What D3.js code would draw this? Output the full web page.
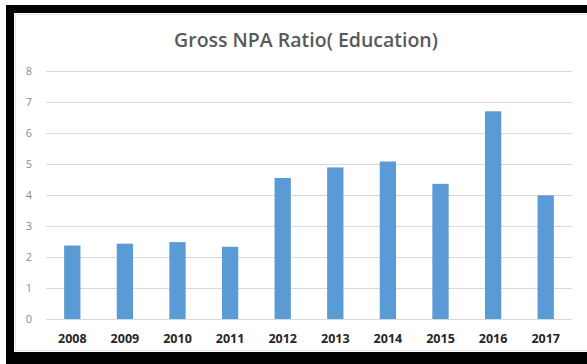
<!DOCTYPE html>
<html>
<head>
<meta charset="utf-8">
<script src="https://cdn.jsdelivr.net/npm/d3@7"></script>
<style>
  html, body { margin: 0; padding: 0; background: #fff; }
  svg { display: block; }
</style>
</head>
<body>
<svg id="chart" width="587" height="364"></svg>
<script>
// Gross NPA ratio for education loans, by year
const years = ["2008", "2009", "2010", "2011", "2012", "2013", "2014", "2015", "2016", "2017"];
const npaRatio = [2.37, 2.43, 2.48, 2.33, 4.55, 4.89, 5.08, 4.36, 6.7, 3.99];
const yTicks = [0, 1, 2, 3, 4, 5, 6, 7, 8];
const chartTitle = "Gross NPA Ratio( Education)";

const svg = d3.select("#chart");
const W = 587, H = 364;

// dark frame around the chart
svg.append("rect").attr("x", 0).attr("y", 0).attr("width", W).attr("height", H).attr("fill", "#fff");
svg.append("rect").attr("x", 6).attr("y", 5).attr("width", W - 6).attr("height", H - 5).attr("fill", "#000");
svg.append("rect").attr("x", 14).attr("y", 13).attr("width", W - 14).attr("height", 339).attr("fill", "#fff");
svg.append("rect").attr("x", 15.5).attr("y", 14.5).attr("width", W - 15).attr("height", 336)
  .attr("fill", "none").attr("stroke", "#e4e4e4").attr("stroke-width", 1);

const x = d3.scaleBand().domain(years).range([46, 572]).paddingInner(0.69).paddingOuter(0.345);
const y = d3.scaleLinear().domain([0, 8]).range([319, 71]);

// horizontal gridlines
svg.append("g").selectAll("line").data(yTicks).join("line")
  .attr("x1", 46).attr("x2", 572)
  .attr("y1", d => Math.round(y(d)) + 0.5).attr("y2", d => Math.round(y(d)) + 0.5)
  .attr("stroke", "#d9d9d9").attr("stroke-width", 1);

// y axis labels
const yAxis = d3.axisLeft(y).tickValues(yTicks).tickSize(0).tickPadding(0);
const yg = svg.append("g").attr("transform", "translate(32,0)").call(yAxis);
yg.select(".domain").remove();
yg.selectAll("text")
  .attr("font-family", "'Open Sans', sans-serif").attr("font-size", 11)
  .attr("fill", "#8c8c8c");

// bars
svg.append("g").selectAll("rect").data(years).join("rect")
  .attr("x", d => x(d))
  .attr("width", x.bandwidth())
  .attr("y", (d, i) => y(npaRatio[i]))
  .attr("height", (d, i) => y(0) - y(npaRatio[i]))
  .attr("fill", "#5b9bd5");

// x axis labels
const xAxis = d3.axisBottom(x).tickSize(0).tickPadding(0);
const xg = svg.append("g").attr("transform", "translate(0,334)").call(xAxis);
xg.select(".domain").remove();
xg.selectAll("text")
  .attr("font-family", "'Open Sans', sans-serif").attr("font-size", 12.5)
  .attr("font-weight", 700).attr("fill", "#262626");

// title
svg.append("text")
  .attr("x", 306).attr("y", 47)
  .attr("text-anchor", "middle")
  .attr("font-family", "'Open Sans', sans-serif").attr("font-size", 19.5)
  .attr("font-weight", 600).attr("fill", "#595959")
  .text(chartTitle);
</script>
</body>
</html>
